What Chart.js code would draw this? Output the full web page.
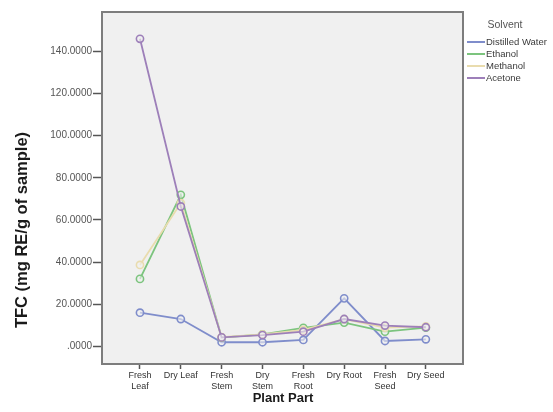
<!DOCTYPE html>
<html>
<head>
<meta charset="utf-8">
<script src="https://cdn.jsdelivr.net/npm/chart.js@4/dist/chart.umd.min.js"></script>
<style>
  html, body { margin: 0; padding: 0; background: #ffffff; }
  #wrap { width: 553px; height: 412px; position: relative; }
</style>
</head>
<body>
<div id="wrap"><canvas id="c" width="553" height="412"></canvas></div>
<script>
// Plant parts on the x axis (multi-line labels as drawn under the ticks)
const plantParts = [
  ['Fresh', 'Leaf'], 'Dry Leaf', ['Fresh', 'Stem'], ['Dry', 'Stem'],
  ['Fresh', 'Root'], 'Dry Root', ['Fresh', 'Seed'], 'Dry Seed'
];

// Total flavonoid content per solvent (mg RE/g of sample)
const distilledWater = [16.1, 13.1, 2.1, 2.1, 3.2, 22.9, 2.7, 3.5];
const ethanol        = [32.1, 71.9, 4.3, 5.8, 8.9, 11.4, 7.1, 9.0];
const methanol       = [38.7, 68.0, 4.5, 5.8, 8.0, 13.0, 9.0, 9.6];
const acetone        = [145.8, 66.4, 4.4, 5.5, 7.1, 13.1, 10.0, 9.2];

const solventNames = ['Distilled Water', 'Ethanol', 'Methanol', 'Acetone'];
const yTickValues = [0, 20, 40, 60, 80, 100, 120, 140];

const colors = ['#7f8dcb', '#7cc47e', '#e9dcae', '#9d7fb9'];
const seriesValues = [distilledWater, ethanol, methanol, acetone];
const drawOrder = [4, 3, 2, 1];

const datasets = seriesValues.map((vals, i) => ({
  label: solventNames[i],
  data: vals.map((v, k) => ({ x: k, y: v })),
  borderColor: colors[i],
  backgroundColor: 'rgba(240,240,240,0.9)',
  pointBorderColor: colors[i],
  pointBackgroundColor: 'rgba(240,240,240,0.6)',
  pointRadius: 3.6,
  pointBorderWidth: 1.6,
  borderWidth: 1.8,
  tension: 0,
  order: drawOrder[i]
}));

const FONT = '"Liberation Sans", Arial, sans-serif';

// Plot frame, background, rotated axis title and the solvent legend
const decorations = {
  id: 'decorations',
  beforeDraw(chart) {
    const { ctx, chartArea: a } = chart;
    ctx.save();
    ctx.fillStyle = '#f0f0f0';
    ctx.fillRect(a.left, a.top, a.right - a.left, a.bottom - a.top);
    ctx.restore();
  },
  afterDraw(chart) {
    const { ctx, chartArea: a } = chart;
    ctx.save();
    ctx.strokeStyle = '#7d7d7d';
    ctx.lineWidth = 2;
    ctx.strokeRect(a.left, a.top, a.right - a.left, a.bottom - a.top);

    // y axis title
    ctx.translate(22, 230);
    ctx.rotate(-Math.PI / 2);
    ctx.fillStyle = '#1a1a1a';
    ctx.font = 'bold 16.5px ' + FONT;
    ctx.textAlign = 'center';
    ctx.textBaseline = 'middle';
    ctx.fillText('TFC (mg RE/g of sample)', 0, 0);
    ctx.restore();

    // x axis title
    ctx.save();
    ctx.fillStyle = '#1a1a1a';
    ctx.font = 'bold 13px ' + FONT;
    ctx.textAlign = 'center';
    ctx.textBaseline = 'middle';
    ctx.fillText('Plant Part', 283, 398);

    // legend
    ctx.fillStyle = '#555555';
    ctx.font = '10.5px ' + FONT;
    ctx.fillText('Solvent', 505, 25);
    ctx.textAlign = 'left';
    ctx.font = '9.5px ' + FONT;
    const ys = [42, 54, 66, 78];
    chart.data.datasets.forEach((ds, i) => {
      ctx.strokeStyle = ds.borderColor;
      ctx.lineWidth = 2;
      ctx.beginPath();
      ctx.moveTo(467, ys[i]);
      ctx.lineTo(485, ys[i]);
      ctx.stroke();
      ctx.fillStyle = '#3a3a3a';
      ctx.fillText(ds.label, 486, ys[i] + 0.5);
    });
    ctx.restore();
  }
};

new Chart(document.getElementById('c'), {
  type: 'line',
  data: { datasets },
  plugins: [decorations],
  options: {
    responsive: false,
    animation: false,
    layout: { padding: { left: 0, top: 12, right: 90, bottom: 0 } },
    plugins: { legend: { display: false }, tooltip: { enabled: false } },
    scales: {
      x: {
        type: 'linear',
        min: -0.93,
        max: 7.91,
        afterBuildTicks: axis => { axis.ticks = plantParts.map((_, k) => ({ value: k })); },
        afterFit: s => { s.height = 48; },
        grid: { drawOnChartArea: false, color: '#555', tickLength: 5, tickWidth: 1.5 },
        border: { display: false },
        ticks: {
          autoSkip: false,
          maxRotation: 0,
          padding: 1,
          color: '#333',
          font: { size: 9, family: FONT },
          callback: v => plantParts[v]
        }
      },
      y: {
        min: -8.2,
        max: 158.5,
        afterBuildTicks: axis => { axis.ticks = yTickValues.map(v => ({ value: v })); },
        afterFit: s => { s.width = 102; },
        grid: { drawOnChartArea: false, color: '#555', tickLength: 9, tickWidth: 1.5 },
        border: { display: false },
        ticks: {
          padding: 1,
          color: '#555',
          font: { size: 10, family: FONT },
          callback: v => (v === 0 ? '.0000' : v.toFixed(4))
        }
      }
    }
  }
});
</script>
</body>
</html>
